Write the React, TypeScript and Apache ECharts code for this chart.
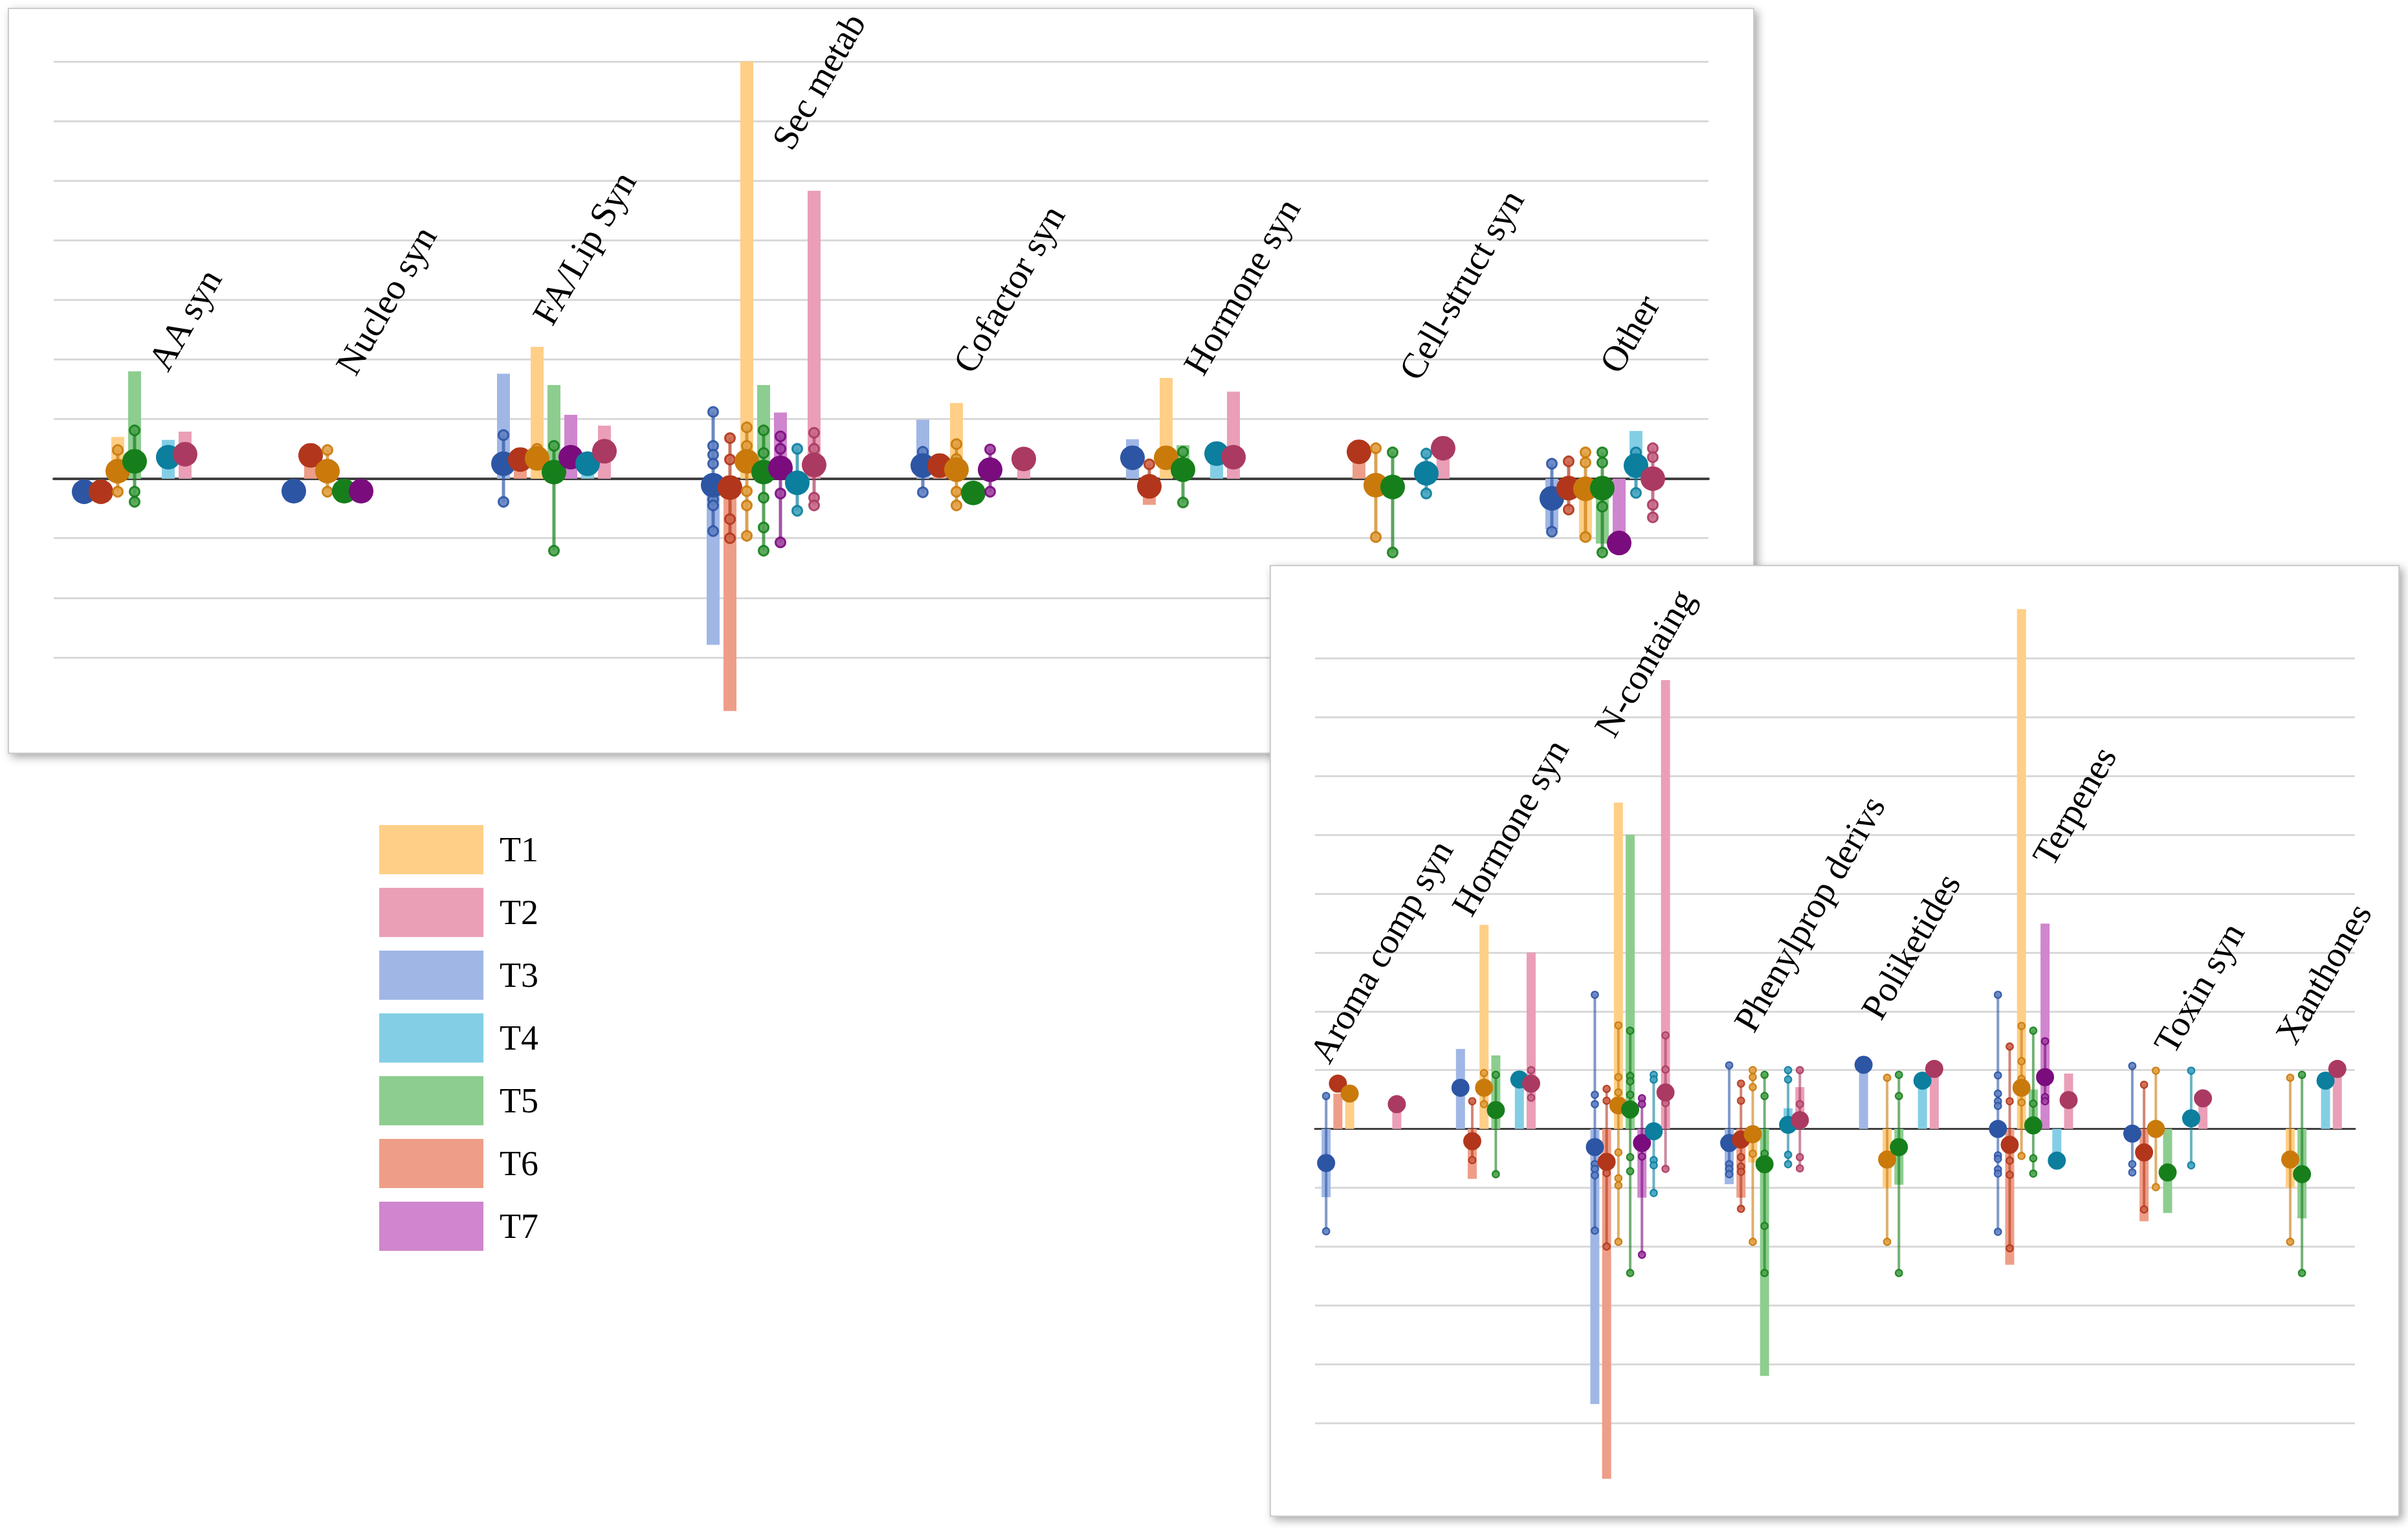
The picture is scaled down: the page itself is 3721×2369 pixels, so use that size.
import React, { useEffect, useRef } from "react";
import * as echarts from "echarts";

const treatments = ["T1", "T2", "T3", "T4", "T5", "T6", "T7"];
const barColors = ["#FFCF87", "#EA9FB7", "#A0B7E6", "#84CEE5", "#8DCD8F", "#EE9E88", "#CF86CE"];
const dotColors = ["#C97A0B", "#AA3A62", "#2C55A4", "#0C7E9E", "#167F1B", "#B2361B", "#7A0C7D"];
// left-to-right order of the treatments inside each category: T3, T6, T1, T5, T7, T4, T2
const groupOrder = [2, 5, 0, 4, 6, 3, 1];

const categories1 = ["AA syn", "Nucleo syn", "FA/Lip Syn", "Sec metab", "Cofactor syn", "Hormone syn", "Cell-struct syn", "Other"];
const categories2 = ["Aroma comp syn", "Hormone syn", "N-containg", "Phenylprop derivs", "Poliketides", "Terpenes", "Toxin syn", "Xanthones"];

// rows: T1..T7, columns: categories
const bars1 = [
  [0.7, null, 2.21, 7.0, 1.27, 1.69, null, -1.03],
  [0.79, null, 0.89, 4.83, 0.2, 1.46, 0.4, null],
  [null, null, 1.76, -2.79, 0.99, 0.66, null, -0.85],
  [0.65, null, 0.25, null, null, 0.4, null, 0.8],
  [1.8, null, 1.57, 1.57, null, 0.56, null, -1.09],
  [null, 0.3, 0.3, -3.9, 0.2, -0.44, 0.42, null],
  [null, null, 1.07, 1.11, null, null, null, -1.09],
];
const means1 = [
  [0.125, 0.125, 0.34, 0.29, 0.15, 0.35, -0.11, -0.17],
  [0.41, null, 0.46, 0.23, 0.33, 0.36, 0.51, 0.0],
  [-0.22, -0.21, 0.25, -0.11, 0.22, 0.35, null, -0.33],
  [0.36, null, 0.25, -0.07, null, 0.42, 0.09, 0.22],
  [0.29, -0.21, 0.11, 0.11, -0.24, 0.15, -0.14, -0.16],
  [-0.22, 0.39, 0.32, -0.15, 0.22, -0.13, 0.45, -0.16],
  [null, -0.21, 0.36, 0.18, 0.15, null, null, -1.08],
];
const points1 = [
  [[0.48, -0.22], [0.48, -0.22], [0.5], [0.86, 0.55, -0.21, -0.45, -0.96], [0.58, 0.33, -0.22, -0.45], [], [0.51, -0.98], [0.44, 0.27, -0.98]],
  [[], [], [], [0.77, 0.5, -0.32, -0.45], [], [], [], [0.51, 0.36, -0.44, -0.65]],
  [[], [], [0.73, -0.39], [1.12, 0.55, 0.4, 0.25, -0.35, -0.45, -0.88], [0.45, -0.23], [], [], [0.25, -0.89]],
  [[], [], [], [0.5, -0.54], [], [], [0.42, -0.25], [0.44, -0.24]],
  [[0.81, -0.22, -0.39], [], [0.55, -1.21], [0.81, 0.43, -0.32, -0.82, -1.21], [], [0.45, -0.4], [0.44, -1.24], [0.44, 0.27, -0.47, -1.24]],
  [[], [], [], [0.68, 0.32, -0.68, -1.0], [], [0.24], [], [0.29, -0.52]],
  [[], [], [], [0.71, 0.5, -0.25, -1.07], [0.49, -0.22], [], [], []],
];

const bars2 = [
  [0.55, 3.47, 5.55, -0.57, -1.0, 8.84, null, -1.0],
  [0.35, 3.0, 7.63, 0.71, 1.0, 0.94, 0.45, 1.0],
  [-1.16, 1.36, -4.68, -0.94, 1.0, null, null, null],
  [null, 0.8, null, 0.35, 0.8, -0.54, null, 0.8],
  [null, 1.25, 5.0, -4.2, -0.95, 0.67, -1.43, -1.52],
  [0.6, -0.85, -5.95, -1.17, null, -2.31, -1.57, null],
  [null, null, -1.17, null, null, 3.49, null, null],
];
const means2 = [
  [0.6, 0.7, 0.4, -0.09, -0.52, 0.7, 0.0, -0.52],
  [0.42, 0.77, 0.62, 0.15, 1.02, 0.49, 0.52, 1.02],
  [-0.58, 0.7, -0.31, -0.24, 1.09, 0.0, -0.08, null],
  [null, 0.84, -0.04, 0.07, 0.82, -0.54, 0.18, 0.82],
  [null, 0.32, 0.33, -0.6, -0.31, 0.06, -0.74, -0.77],
  [0.77, -0.21, -0.56, -0.18, null, -0.27, -0.4, null],
  [null, null, -0.24, null, null, 0.88, null, null],
];
const points2 = [
  [[], [0.95, 0.42], [1.76, 0.88, 0.62, -0.4, -0.84, -0.96, -1.92], [1.0, 0.88, 0.71, -0.42, -1.92], [0.87, -1.92], [1.75, 1.15, 0.85, 0.45, -0.46], [0.99, -0.99], [0.87, -1.92]],
  [[], [1.0, 0.53], [1.59, 1.01, 0.44, -0.68], [1.0, 0.42, -0.48, -0.67], [], [], [], []],
  [[0.56, -1.74], [], [2.28, 0.58, 0.42, -0.6, -0.68, -0.79, -1.73], [1.08, -0.6, -0.68, -0.77], [], [2.28, 0.91, 0.6, 0.47, 0.39, -0.45, -0.51, -0.69, -0.76, -1.75], [1.07, -0.6, -0.74], []],
  [[], [], [0.92, 0.84, -0.53, -0.62, -1.09], [1.0, 0.84, -0.44, -0.6], [], [], [0.99, -0.62], []],
  [[], [0.92, -0.77], [1.67, 0.9, 0.81, 0.58, -0.48, -0.72, -2.45], [0.92, 0.56, -0.42, -1.65, -2.45], [0.92, 0.56, -2.45], [1.67, 0.43, -0.5, -0.76], [], [0.92, -2.45]],
  [[], [0.47, -0.53], [0.68, 0.48, -0.75, -2.0], [0.77, 0.48, -0.48, -0.64, -0.73, -1.36], [], [1.4, 0.47, -0.54, -0.78, -2.03], [0.75, -1.37], []],
  [[], [], [0.52, 0.42, -0.47, -2.14], [], [], [1.49, 0.54, 0.47], [], []],
];

// category label anchors (value on the y axis where each rotated label starts)
const labelY1 = [1.79, 1.72, 2.56, 5.5, 1.75, 1.72, 1.63, 1.75];
const labelY2 = [1.1, 3.6, 6.64, 1.63, 1.84, 4.45, 1.26, 1.42];
const labelDx1 = [33, -1, -21, 25, -19, 13, 22, 8];
const labelDx2 = [-68, -56, -43, -35, -46, 11, -9, -29];

const FONT = "Liberation Serif";

function mix(a: string, b: string, t: number) {
  const pa = [1, 3, 5].map((k) => parseInt(a.slice(k, k + 2), 16));
  const pb = [1, 3, 5].map((k) => parseInt(b.slice(k, k + 2), 16));
  const c = pa.map((v, k) => Math.round(v * (1 - t) + pb[k] * t));
  return "rgb(" + c.join(",") + ")";
}

function buildPanel(cfg: any) {
  const series: any[] = [];
  const step = cfg.barWidth * 1.3;
  groupOrder.forEach((t) => {
    series.push({
      type: "bar",
      name: treatments[t],
      xAxisIndex: cfg.xi,
      yAxisIndex: cfg.yi,
      data: cfg.bars[t],
      barWidth: cfg.barWidth,
      barGap: "30%",
      itemStyle: { color: barColors[t] },
      z: cfg.z,
      silent: true,
    });
  });
  groupOrder.forEach((t, pos) => {
    const data: any[] = [];
    cfg.means[t].forEach((m: number | null, i: number) => {
      if (m !== null) data.push([i, m]);
    });
    const smallFill = mix(dotColors[t], barColors[t], 0.45);
    series.push({
      type: "custom",
      name: treatments[t] + " mean",
      xAxisIndex: cfg.xi,
      yAxisIndex: cfg.yi,
      data,
      z: cfg.z + 1,
      silent: true,
      renderItem: (params: any, api: any) => {
        const i = api.value(0);
        const m = api.value(1);
        const c = api.coord([i, m]);
        const x = c[0] + (pos - 3) * step;
        const pts: number[] = cfg.points[t][i] || [];
        const children: any[] = [];
        if (pts.length) {
          const all = pts.concat([m]);
          const hi = Math.max(...all);
          const lo = Math.min(...all);
          children.push({
            type: "line",
            shape: { x1: x, y1: api.coord([i, hi])[1], x2: x, y2: api.coord([i, lo])[1] },
            style: { stroke: dotColors[t], lineWidth: cfg.lineW, opacity: cfg.lineOpacity },
          });
          pts.forEach((p) => {
            children.push({
              type: "circle",
              shape: { cx: x, cy: api.coord([i, p])[1], r: cfg.small / 2 },
              style: { fill: smallFill, stroke: dotColors[t], lineWidth: cfg.smallW, opacity: 0.9 },
            });
          });
        }
        children.push({
          type: "circle",
          shape: { cx: x, cy: c[1], r: cfg.big / 2 },
          style: { fill: dotColors[t] },
        });
        return { type: "group", children };
      },
    });
  });
  const desc = 13;
  const ang = Math.PI / 3;
  series.push({
    type: "custom",
    name: "labels" + cfg.xi,
    xAxisIndex: cfg.xi,
    yAxisIndex: cfg.yi,
    data: cfg.cats.map((_: string, i: number) => [i, cfg.labelY[i]]),
    z: cfg.z + 2,
    silent: true,
    renderItem: (params: any, api: any) => {
      const i = api.value(0);
      const p = api.coord([i, api.value(1)]);
      return {
        type: "text",
        x: p[0] + cfg.labelDx[i] + 15 + desc * Math.sin(ang),
        y: p[1] + desc * Math.cos(ang),
        rotation: ang,
        style: {
          text: cfg.cats[i],
          fill: "#000",
          fontSize: 56,
          fontFamily: FONT,
          align: "left",
          verticalAlign: "bottom",
        },
      };
    },
  });
  return series;
}

const panelShadow = {
  fill: "#ffffff",
  stroke: "#cccccc",
  lineWidth: 2,
  shadowBlur: 14,
  shadowColor: "rgba(0,0,0,0.35)",
  shadowOffsetX: 5,
  shadowOffsetY: 5,
};

const option: any = {
  animation: false,
  backgroundColor: "#ffffff",
  graphic: [
    { type: "rect", z: 0, shape: { x: 13, y: 13, width: 2697, height: 1151 }, style: panelShadow },
    { type: "rect", z: 10, shape: { x: 1963, y: 874, width: 1744, height: 1469 }, style: panelShadow },
  ],
  legend: {
    data: treatments,
    orient: "vertical",
    left: 581,
    top: 1270,
    itemWidth: 161,
    itemHeight: 76,
    itemGap: 21,
    icon: "rect",
    selectedMode: false,
    textStyle: { fontSize: 54, fontFamily: FONT, color: "#000", padding: [0, 0, 0, 20] },
  },
  grid: [
    { left: 83, top: 95, width: 2557, height: 1013 },
    { left: 46, top: 95, width: 2592, height: 1013 },
    { left: 2032, top: 926.6, width: 1607, height: 1363.2 },
    { left: 2000, top: 926.6, width: 1661, height: 1363.2 },
  ],
  xAxis: [
    {
      gridIndex: 0, type: "value", min: 0, max: 1, z: 1,
      axisLine: { show: true, onZero: true, lineStyle: { color: "#404040", width: 4 } },
      axisTick: { show: false }, axisLabel: { show: false }, splitLine: { show: false },
    },
    { gridIndex: 1, type: "category", data: categories1, show: false },
    {
      gridIndex: 2, type: "value", min: 0, max: 1, z: 11,
      axisLine: { show: true, onZero: true, lineStyle: { color: "#404040", width: 3 } },
      axisTick: { show: false }, axisLabel: { show: false }, splitLine: { show: false },
    },
    { gridIndex: 3, type: "category", data: categories2, show: false },
  ],
  yAxis: [
    {
      gridIndex: 0, type: "value", min: -4, max: 7, interval: 1, z: 1,
      axisLine: { show: false }, axisTick: { show: false }, axisLabel: { show: false },
      splitLine: { show: true, showMinLine: false, lineStyle: { color: "#D9D9D9", width: 3 } },
    },
    { gridIndex: 1, type: "value", min: -4, max: 7, show: false, splitLine: { show: false } },
    {
      gridIndex: 2, type: "value", min: -6, max: 9, interval: 1, z: 11,
      axisLine: { show: false }, axisTick: { show: false }, axisLabel: { show: false },
      splitLine: { show: true, showMinLine: false, showMaxLine: false, lineStyle: { color: "#D9D9D9", width: 3 } },
    },
    { gridIndex: 3, type: "value", min: -6, max: 9, show: false, splitLine: { show: false } },
  ],
  series: [
    ...buildPanel({
      xi: 1, yi: 1, cats: categories1, bars: bars1, means: means1, points: points1,
      barWidth: 20, big: 38, small: 15, smallW: 3, lineW: 5, lineOpacity: 0.7, z: 2,
      labelY: labelY1, labelDx: labelDx1,
    }),
    ...buildPanel({
      xi: 3, yi: 3, cats: categories2, bars: bars2, means: means2, points: points2,
      barWidth: 14, big: 28, small: 10.5, smallW: 2.2, lineW: 4, lineOpacity: 0.6, z: 12,
      labelY: labelY2, labelDx: labelDx2,
    }),
  ],
};

export default function App() {
  const ref = useRef<HTMLDivElement>(null);
  useEffect(() => {
    const chart = echarts.init(ref.current as HTMLDivElement, null, { renderer: "svg" });
    chart.setOption(option);
    return () => chart.dispose();
  }, []);
  return (
    <div
      ref={ref}
      style={{ position: "absolute", left: 0, top: 0, width: 3721, height: 2369, background: "#fff" }}
    />
  );
}
